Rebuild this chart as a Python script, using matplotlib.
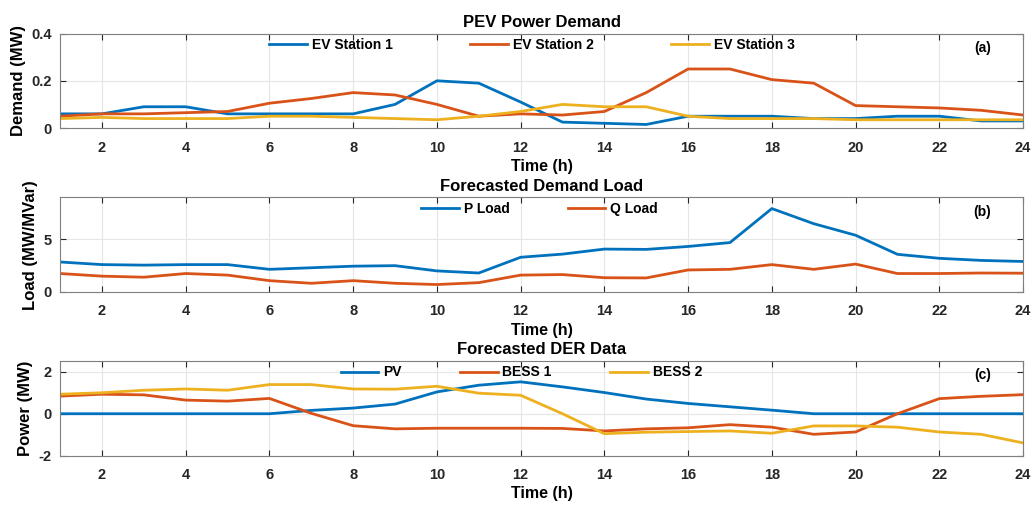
import matplotlib.pyplot as plt
import numpy as np

plt.rcParams['font.family'] = ['Liberation Sans', 'DejaVu Sans']
plt.rcParams['font.weight'] = 'bold'

hours = np.arange(1, 25)

# (a) PEV power demand (MW)
ev_station_1 = [0.06, 0.06, 0.09, 0.09, 0.06, 0.06, 0.06, 0.06, 0.10, 0.20, 0.19, 0.11,
                0.025, 0.02, 0.015, 0.05, 0.05, 0.05, 0.04, 0.04, 0.05, 0.05, 0.03, 0.03]
ev_station_2 = [0.05, 0.06, 0.06, 0.065, 0.07, 0.105, 0.125, 0.15, 0.14, 0.10, 0.05, 0.06,
                0.055, 0.07, 0.15, 0.25, 0.25, 0.205, 0.19, 0.095, 0.09, 0.085, 0.075, 0.055]
ev_station_3 = [0.04, 0.045, 0.04, 0.04, 0.04, 0.05, 0.05, 0.045, 0.04, 0.035, 0.05, 0.07,
                0.10, 0.09, 0.09, 0.05, 0.04, 0.04, 0.04, 0.035, 0.035, 0.035, 0.035, 0.035]

# (b) forecasted demand load (MW / MVar)
p_load = [2.85, 2.6, 2.55, 2.6, 2.6, 2.15, 2.3, 2.45, 2.5, 2.0, 1.8, 3.3,
          3.6, 4.08, 4.05, 4.33, 4.7, 7.94, 6.5, 5.4, 3.58, 3.2, 3.0, 2.9]
q_load = [1.75, 1.5, 1.4, 1.75, 1.6, 1.07, 0.82, 1.07, 0.82, 0.7, 0.88, 1.6,
          1.65, 1.35, 1.33, 2.09, 2.15, 2.6, 2.15, 2.65, 1.75, 1.75, 1.8, 1.78]

# (c) forecasted DER data (MW)
pv = [0, 0, 0, 0, 0, 0, 0.16, 0.27, 0.46, 1.04, 1.36, 1.52,
      1.28, 1.01, 0.70, 0.49, 0.33, 0.17, 0, 0, 0, 0, 0, 0]
bess_1 = [0.84, 0.93, 0.90, 0.65, 0.60, 0.73, 0.02, -0.57, -0.72, -0.69, -0.69, -0.69,
          -0.70, -0.82, -0.72, -0.67, -0.52, -0.64, -0.98, -0.87, 0.0, 0.72, 0.83, 0.91]
bess_2 = [0.93, 1.0, 1.12, 1.18, 1.12, 1.39, 1.39, 1.18, 1.17, 1.31, 0.98, 0.88,
          0.0, -0.95, -0.88, -0.85, -0.82, -0.93, -0.58, -0.58, -0.64, -0.87, -0.98, -1.39]

colors = ['#0072BD', '#D95319', '#EDB120']

fig = plt.figure(figsize=(10.36, 5.05), dpi=100)
left, width, height = 0.058, 0.9295, 0.187
bottoms = [0.7465, 0.422, 0.0976]

panels = [
    dict(series=[ev_station_1, ev_station_2, ev_station_3],
         labels=['EV Station 1', 'EV Station 2', 'EV Station 3'],
         title='PEV Power Demand', ylabel='Demand (MW)', tag='(a)',
         ylim=(0, 0.4), yticks=[0, 0.2, 0.4], yticklabels=['0', '0.2', '0.4'],
         colspace=5.6, anchor=0.49),
    dict(series=[p_load, q_load], labels=['P Load', 'Q Load'],
         title='Forecasted Demand Load', ylabel='Load (MW/MVar)', tag='(b)',
         ylim=(0, 9), yticks=[0, 5], yticklabels=['0', '5'],
         colspace=4.2, anchor=0.498),
    dict(series=[pv, bess_1, bess_2], labels=['PV', 'BESS 1', 'BESS 2'],
         title='Forecasted DER Data', ylabel='Power (MW)', tag='(c)',
         ylim=(-2, 2.5), yticks=[-2, 0, 2], yticklabels=['-2', '0', '2'],
         colspace=4.2, anchor=0.479),
]

for b, p in zip(bottoms, panels):
    ax = fig.add_axes([left, b, width, height])
    for s, lab, c in zip(p['series'], p['labels'], colors):
        ax.plot(hours, s, color=c, lw=2, label=lab)
    ax.set_xlim(1, 24)
    ax.set_ylim(*p['ylim'])
    ax.set_xticks(range(2, 25, 2))
    ax.set_yticks(p['yticks'])
    ax.set_yticklabels(p['yticklabels'])
    ax.tick_params(axis='x', pad=9)
    ax.tick_params(direction='in', top=True, right=True, labelsize=10.5,
                   colors='#262626', length=4, width=0.8)
    ax.tick_params(axis='y', pad=6)
    for sp in ax.spines.values():
        sp.set_color('#7f7f7f')
        sp.set_linewidth(0.8)
    ax.grid(True, color='#e6e6e6', lw=0.8)
    ax.set_axisbelow(True)
    ax.set_xlabel('Time (h)', fontsize=11.5, fontweight='bold', labelpad=3)
    ax.set_ylabel(p['ylabel'], fontsize=12, fontweight='bold', labelpad=4)
    ax.set_title(p['title'], fontsize=12, fontweight='bold', pad=5)
    ax.text(0.958, 0.85, p['tag'], transform=ax.transAxes, fontsize=10,
            fontweight='bold', ha='center', va='center')
    ax.legend(loc='upper center', bbox_to_anchor=(p['anchor'], 1.015), ncol=len(p['series']),
              frameon=False, fontsize=10, handlelength=2.7, handletextpad=0.35,
              columnspacing=p['colspace'], borderaxespad=0)

fig.savefig('out.png', dpi=100)
